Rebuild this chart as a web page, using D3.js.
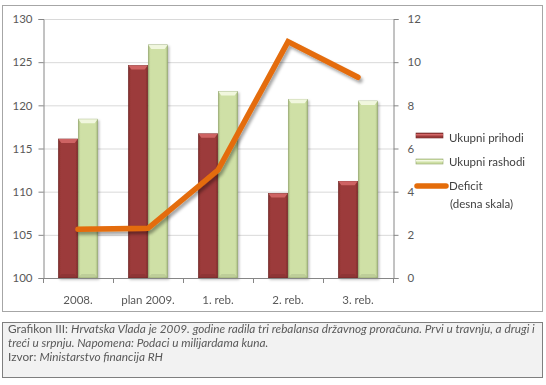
<!DOCTYPE html>
<html><head><meta charset="utf-8">
<script src="https://cdn.jsdelivr.net/npm/d3@7"></script>
<style>
html,body{margin:0;padding:0;background:#fff;}
svg{display:block;font-family:Lato,"Liberation Sans",sans-serif;}
</style></head>
<body><svg id="c" width="546" height="385"></svg>
<script>
const categories = ["2008.", "plan 2009.", "1. reb.", "2. reb.", "3. reb."];
const prihodi = [116.1, 124.6, 116.7, 109.8, 111.2];
const rashodi = [118.4, 127.0, 121.6, 120.7, 120.5];
const deficit = [2.26, 2.3, 5.0, 10.95, 9.3];
const leftTicks = [100, 105, 110, 115, 120, 125, 130];
const rightTicks = [0, 2, 4, 6, 8, 10, 12];
const seriesNames = ["Ukupni prihodi", "Ukupni rashodi"];
const deficitName = ["Deficit", "(desna skala)"];

const svg = d3.select("#c");
const defs = svg.append("defs");

function barGrad(id, dark, mid) {
  const g = defs.append("linearGradient").attr("id", id).attr("x1", 0).attr("x2", 1).attr("y1", 0).attr("y2", 0);
  g.append("stop").attr("offset", "0%").attr("stop-color", dark);
  g.append("stop").attr("offset", "12%").attr("stop-color", mid);
  g.append("stop").attr("offset", "88%").attr("stop-color", mid);
  g.append("stop").attr("offset", "100%").attr("stop-color", dark);
}
barGrad("gRed", "#7e2c2b", "#9c3b3a");
barGrad("gGreen", "#a9bd80", "#cfe0a6");
const sh = defs.append("filter").attr("id", "shadow").attr("x", "-20%").attr("y", "-20%").attr("width", "140%").attr("height", "140%");
sh.append("feDropShadow").attr("dx", 2).attr("dy", 3).attr("stdDeviation", 1.8).attr("flood-color", "#000").attr("flood-opacity", 0.35);
const bsh = defs.append("filter").attr("id", "bshadow").attr("x", "-20%").attr("y", "-5%").attr("width", "140%").attr("height", "110%");
bsh.append("feDropShadow").attr("dx", 1.5).attr("dy", 1.5).attr("stdDeviation", 1.2).attr("flood-color", "#000").attr("flood-opacity", 0.25);

svg.append("rect").attr("x", 2.5).attr("y", 5.5).attr("width", 540).attr("height", 306)
  .attr("fill", "#fff").attr("stroke", "#a6a6a6");

const L = 43, R = 393, T = 19, B = 278;
const x = d3.scaleBand().domain(categories).range([L, R]).paddingInner(0.44).paddingOuter(0.22);
const xs = d3.scaleBand().domain(seriesNames).range([0, x.bandwidth()]).paddingInner(0.03);
const y = d3.scaleLinear().domain([100, 130]).range([B, T]);
const y2 = d3.scaleLinear().domain([0, 12]).range([B, T]);

svg.append("g").selectAll("line").data(leftTicks.slice(1)).join("line")
  .attr("x1", L).attr("x2", R).attr("y1", d => y(d) + 0.5).attr("y2", d => y(d) + 0.5)
  .attr("stroke", "#d9d9d9");

const vals = [prihodi, rashodi];
const fills = ["url(#gRed)", "url(#gGreen)"];
const strokes = ["#6e2625", "#8fa36a"];
const tops = ["#d46868", "#f4f9e4"];
seriesNames.forEach((s, si) => {
  const g = svg.append("g").attr("filter", "url(#bshadow)");
  categories.forEach((c, i) => {
    const bx = x(c) + xs(s), bw = xs.bandwidth(), by = y(vals[si][i]), bh = B - by;
    g.append("rect").attr("x", bx).attr("y", by).attr("width", bw).attr("height", bh)
      .attr("fill", fills[si]).attr("stroke", strokes[si]).attr("stroke-width", 0.6);
    g.append("path").attr("d", `M${bx},${by}L${bx + bw},${by}L${bx + bw - 3},${by + 4}L${bx + 3},${by + 4}Z`)
      .attr("fill", tops[si]).attr("opacity", 0.9);
    g.append("path").attr("d", `M${bx},${B}L${bx + bw},${B}L${bx + bw - 3},${B - 4}L${bx + 3},${B - 4}Z`)
      .attr("fill", "#000").attr("opacity", 0.08);
  });
});

const axL = svg.append("g").attr("transform", `translate(${L + 0.5},0)`)
  .call(d3.axisLeft(y).tickValues(leftTicks).tickSize(5).tickPadding(6));
const axR = svg.append("g").attr("transform", `translate(${R + 0.5},0)`)
  .call(d3.axisRight(y2).tickValues(rightTicks).tickSize(5).tickPadding(9));
const axB = svg.append("g").attr("transform", `translate(0,${B + 0.5})`)
  .call(d3.axisBottom(x).tickSize(0).tickPadding(17));
const bounds = categories.map(c => x(c) - x.step() * x.paddingInner() / 2).concat([R]);
svg.append("g").selectAll("line").data(bounds).join("line")
  .attr("x1", d => Math.round(d) + 0.5).attr("x2", d => Math.round(d) + 0.5)
  .attr("y1", B).attr("y2", B + 5).attr("stroke", "#868686");
[axL, axR, axB].forEach(a => {
  a.selectAll("path.domain").attr("stroke", "#868686");
  a.selectAll(".tick line").attr("stroke", "#868686");
  a.selectAll("text").attr("fill", "#595959").style("font-size", "11.5px").style("font-family", "Lato,'Liberation Sans',sans-serif");
});
axB.select("path.domain").attr("d", `M${L},0H${R}`);

const line = d3.line().x((d, i) => x(categories[i]) + x.bandwidth() / 2).y(d => y2(d));
svg.append("path").datum(deficit).attr("d", line)
  .attr("fill", "none").attr("stroke", "#e46c0a").attr("stroke-width", 5.5)
  .attr("stroke-linecap", "round").attr("stroke-linejoin", "miter").attr("filter", "url(#shadow)");

const lg = svg.append("g").style("font-size", "11.5px").attr("fill", "#404040");
lg.append("rect").attr("x", 416).attr("y", 133).attr("width", 27).attr("height", 5)
  .attr("fill", "#9c3b3a").attr("stroke", "#6e2625").attr("stroke-width", 0.6);
lg.append("rect").attr("x", 416).attr("y", 134).attr("width", 27).attr("height", 1.5).attr("fill", "#d46868");
lg.append("text").attr("x", 449).attr("y", 142).text(seriesNames[0]);
lg.append("rect").attr("x", 416).attr("y", 159).attr("width", 27).attr("height", 5)
  .attr("fill", "#cfe0a6").attr("stroke", "#8fa36a").attr("stroke-width", 0.6);
lg.append("rect").attr("x", 416).attr("y", 160).attr("width", 27).attr("height", 1.5).attr("fill", "#f4f9e4");
lg.append("text").attr("x", 449).attr("y", 166).text(seriesNames[1]);
lg.append("line").attr("x1", 417).attr("x2", 446).attr("y1", 186).attr("y2", 186)
  .attr("stroke", "#e46c0a").attr("stroke-width", 5.5).attr("stroke-linecap", "round");
lg.append("text").attr("x", 449).attr("y", 190).text(deficitName[0]);
lg.append("text").attr("x", 450).attr("y", 208).text(deficitName[1]);

svg.append("rect").attr("x", 2.5).attr("y", 322.5).attr("width", 540).attr("height", 55)
  .attr("fill", "#f2f2f2").attr("stroke", "#7f7f7f");
const cap = svg.append("g").attr("fill", "#595959").style("font-size", "11.8px");
const t1 = cap.append("text").attr("x", 8).attr("y", 333);
t1.append("tspan").text("Grafikon III: ");
t1.append("tspan").attr("font-style", "italic").text("Hrvatska Vlada je 2009. godine radila tri rebalansa državnog proračuna. Prvi u travnju, a drugi i");
cap.append("text").attr("x", 8).attr("y", 347).attr("font-style", "italic").text("treći u srpnju. Napomena: Podaci u milijardama kuna.");
const t3 = cap.append("text").attr("x", 8).attr("y", 361);
t3.append("tspan").text("Izvor: ");
t3.append("tspan").attr("font-style", "italic").text("Ministarstvo financija RH");
</script>
</body></html>
